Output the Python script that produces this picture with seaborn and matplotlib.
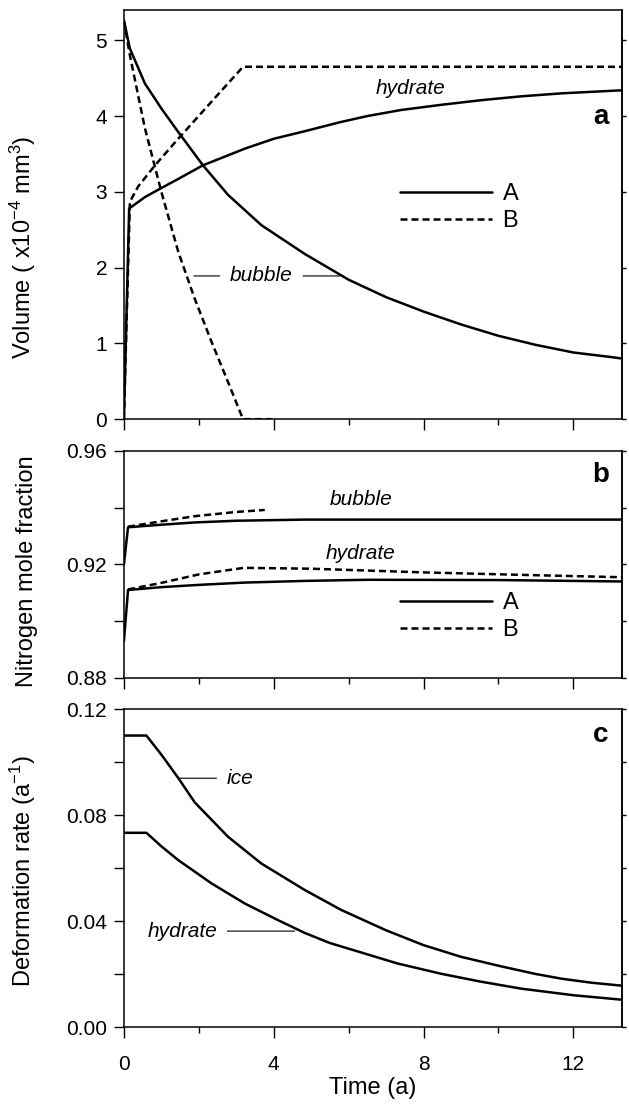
import numpy as np
import pandas as pd
import matplotlib
matplotlib.use("Agg")
import matplotlib.pyplot as plt
from matplotlib.lines import Line2D
from matplotlib.ticker import MultipleLocator, FormatStrFormatter
import seaborn as sns

# ---- data ----
# panel a: volume (x1e-4 mm^3)
bubble_a_t = [0.0, 0.16, 0.56, 1.0, 1.45, 2.11, 2.78, 3.67, 4.83, 6.0, 7.0, 8.0,
              9.0, 10.0, 11.0, 12.0, 13.0, 13.3]
bubble_a_v = [5.26, 4.89, 4.43, 4.10, 3.79, 3.35, 2.96, 2.56, 2.18, 1.84, 1.61, 1.42,
              1.25, 1.10, 0.98, 0.88, 0.82, 0.80]
hydrate_a_t = [0.0, 0.14, 0.56, 1.0, 1.45, 2.11, 3.23, 4.0, 4.83, 5.78, 6.5, 7.4,
               8.5, 9.55, 10.6, 11.7, 12.5, 13.3]
hydrate_a_v = [0.0, 2.78, 2.93, 3.05, 3.17, 3.35, 3.57, 3.70, 3.80, 3.92, 4.00, 4.08,
               4.15, 4.21, 4.26, 4.30, 4.32, 4.34]
bubble_b_t = [0.0, 0.16, 0.56, 1.0, 1.45, 1.89, 2.34, 2.78, 3.18, 3.94]
bubble_b_v = [5.26, 4.80, 3.84, 3.00, 2.21, 1.59, 1.02, 0.49, 0.0, 0.0]
hydrate_b_t = [0.0, 0.16, 0.38, 0.83, 1.45, 2.34, 3.18, 13.3]
hydrate_b_v = [0.0, 2.87, 3.07, 3.35, 3.70, 4.19, 4.65, 4.65]

# panel b: nitrogen mole fraction
bubble_xa_t = [0.0, 0.11, 1.0, 1.89, 3.0, 4.83, 8.0, 13.3]
bubble_xa_v = [0.920, 0.9331, 0.9340, 0.9348, 0.9354, 0.9358, 0.9358, 0.9358]
bubble_xb_t = [0.11, 1.0, 1.89, 3.0, 3.76]
bubble_xb_v = [0.9333, 0.9352, 0.9370, 0.9385, 0.9392]
hydrate_xa_t = [0.0, 0.11, 1.0, 2.0, 3.2, 4.83, 6.5, 10.0, 13.3]
hydrate_xa_v = [0.8930, 0.9110, 0.9120, 0.9128, 0.9136, 0.9142, 0.9146, 0.9145, 0.9140]
hydrate_xb_t = [0.11, 1.0, 2.0, 3.2, 5.0, 8.0, 11.0, 13.3]
hydrate_xb_v = [0.9112, 0.9135, 0.9165, 0.9188, 0.9185, 0.9172, 0.9162, 0.9155]

# panel c: deformation rate (1/a)
ice_t = [0.0, 0.6, 1.0, 1.45, 1.89, 2.78, 3.67, 4.83, 5.8, 7.0, 8.0, 9.0, 10.1,
         11.0, 11.7, 12.5, 13.3]
ice_r = [0.110, 0.110, 0.1028, 0.0940, 0.0848, 0.0718, 0.0617, 0.0517, 0.0442,
         0.0365, 0.0309, 0.0265, 0.0228, 0.0200, 0.0182, 0.0167, 0.0156]
hyd_t = [0.0, 0.6, 1.0, 1.45, 2.34, 3.23, 4.12, 4.83, 5.5, 6.32, 7.3, 8.47, 9.5,
         10.6, 12.0, 13.3]
hyd_r = [0.0733, 0.0733, 0.0682, 0.0630, 0.0542, 0.0466, 0.0403, 0.0355, 0.0317,
         0.0282, 0.0240, 0.0201, 0.0172, 0.0145, 0.0120, 0.0103]

sns.set_style("ticks")
plt.rcParams["font.family"] = ["Liberation Sans", "DejaVu Sans"]
plt.rcParams["mathtext.default"] = "regular"
for key in ("text.color", "axes.labelcolor", "xtick.color", "ytick.color",
            "axes.edgecolor"):
    plt.rcParams[key] = "black"

fig = plt.figure(figsize=(6.29, 11.06), dpi=100)
ax_a = fig.add_axes([0.197, 0.621, 0.792, 0.370])
ax_b = fig.add_axes([0.197, 0.387, 0.792, 0.2053])
ax_c = fig.add_axes([0.197, 0.0714, 0.792, 0.2875])

LW = 1.8
DASH = (2.8, 1.6)


def draw(ax, t, v, dashed=False):
    df = pd.DataFrame({"t": t, "v": v})
    sns.lineplot(data=df, x="t", y="v", ax=ax, color="black", lw=LW,
                 estimator=None, sort=False)
    if dashed:
        ax.lines[-1].set_dashes(DASH)


# panel a
draw(ax_a, bubble_a_t, bubble_a_v)
draw(ax_a, hydrate_a_t, hydrate_a_v)
draw(ax_a, bubble_b_t, bubble_b_v, dashed=True)
draw(ax_a, hydrate_b_t, hydrate_b_v, dashed=True)

# panel b
draw(ax_b, bubble_xa_t, bubble_xa_v)
draw(ax_b, hydrate_xa_t, hydrate_xa_v)
draw(ax_b, bubble_xb_t, bubble_xb_v, dashed=True)
draw(ax_b, hydrate_xb_t, hydrate_xb_v, dashed=True)

# panel c
draw(ax_c, ice_t, ice_r)
draw(ax_c, hyd_t, hyd_r)

panel_ylims = {ax_a: (0, 5.4), ax_b: (0.88, 0.96), ax_c: (0, 0.12)}
major_steps = {ax_a: 1, ax_b: 0.04, ax_c: 0.04}
minor_steps = {ax_a: None, ax_b: 0.02, ax_c: 0.02}

for ax in (ax_a, ax_b, ax_c):
    ax.set_xlim(0, 13.3)
    ax.set_ylim(*panel_ylims[ax])
    ax.xaxis.set_major_locator(MultipleLocator(4))
    ax.xaxis.set_minor_locator(MultipleLocator(2))
    ax.tick_params(axis="x", which="major", direction="out", length=8, width=1.0,
                   labelsize=15, pad=12)
    ax.tick_params(axis="x", which="minor", direction="out", length=4.5, width=1.0)
    ax.yaxis.set_major_locator(MultipleLocator(major_steps[ax]))
    if minor_steps[ax]:
        ax.yaxis.set_minor_locator(MultipleLocator(minor_steps[ax]))
    ax.tick_params(axis="y", which="both", direction="out", length=7, width=1.0,
                   labelsize=15, pad=5)
    for s in ax.spines.values():
        s.set_visible(True)
        s.set_linewidth(1.1)
    # short outward ticks on the right edge
    sec = ax.secondary_yaxis("right")
    sec.yaxis.set_major_locator(MultipleLocator(major_steps[ax]))
    if minor_steps[ax]:
        sec.yaxis.set_minor_locator(MultipleLocator(minor_steps[ax]))
    sec.tick_params(axis="y", which="both", direction="out", length=3, width=1.0,
                    labelright=False)
    sec.spines["right"].set_linewidth(1.1)
    ax.set_xlabel("")

ax_a.tick_params(axis="x", labelbottom=False)
ax_b.tick_params(axis="x", labelbottom=False)
ax_b.yaxis.set_major_formatter(FormatStrFormatter("%.2f"))
ax_c.yaxis.set_major_formatter(FormatStrFormatter("%.2f"))
ax_c.set_xlabel("Time (a)", fontsize=17, labelpad=2)

ax_a.set_ylabel("Volume ( x10$^{-4}$ mm$^{3}$)", fontsize=17)
ax_b.set_ylabel("Nitrogen mole fraction", fontsize=17)
ax_c.set_ylabel("Deformation rate (a$^{-1}$)", fontsize=17)
ax_a.yaxis.set_label_coords(-0.172, 0.42)
ax_b.yaxis.set_label_coords(-0.172, 0.47)
ax_c.yaxis.set_label_coords(-0.172, 0.49)

# panel letters
for ax, letter, yy in ((ax_a, "a", 0.738), (ax_b, "b", 0.894), (ax_c, "c", 0.918)):
    ax.text(0.957, yy, letter, transform=ax.transAxes, fontsize=20,
            fontweight="bold", ha="center", va="center")

# legends
handles = [Line2D([], [], color="black", lw=LW),
           Line2D([], [], color="black", lw=LW, dashes=DASH)]
for ax, anchor in ((ax_a, (0.535, 0.60)), (ax_b, (0.535, 0.42))):
    ax.legend(handles, ["A", "B"], loc="upper left", bbox_to_anchor=anchor,
              frameon=False, fontsize=17, handlelength=3.9, handletextpad=0.45,
              labelspacing=0.2, borderaxespad=0)

it = dict(fontsize=15, style="italic", ha="center", va="center")
line_arrow = dict(arrowstyle="-", color="black", lw=0.8, shrinkA=5, shrinkB=0)

ax_a.text(7.66, 4.37, "hydrate", **it)
ax_a.annotate("bubble", xy=(1.87, 1.89), xytext=(3.67, 1.89),
              arrowprops=line_arrow, **it)
ax_a.annotate("bubble", xy=(5.76, 1.89), xytext=(3.67, 1.89),
              arrowprops=line_arrow, alpha=0, **it)
ax_b.text(6.32, 0.9428, "bubble", **it)
ax_b.text(6.32, 0.9239, "hydrate", **it)
ax_c.annotate("ice", xy=(1.45, 0.0939), xytext=(3.1, 0.0939),
              arrowprops=line_arrow, **it)
ax_c.annotate("hydrate", xy=(4.56, 0.0362), xytext=(1.56, 0.0362),
              arrowprops=line_arrow, **it)

fig.savefig("out.png", dpi=100)
